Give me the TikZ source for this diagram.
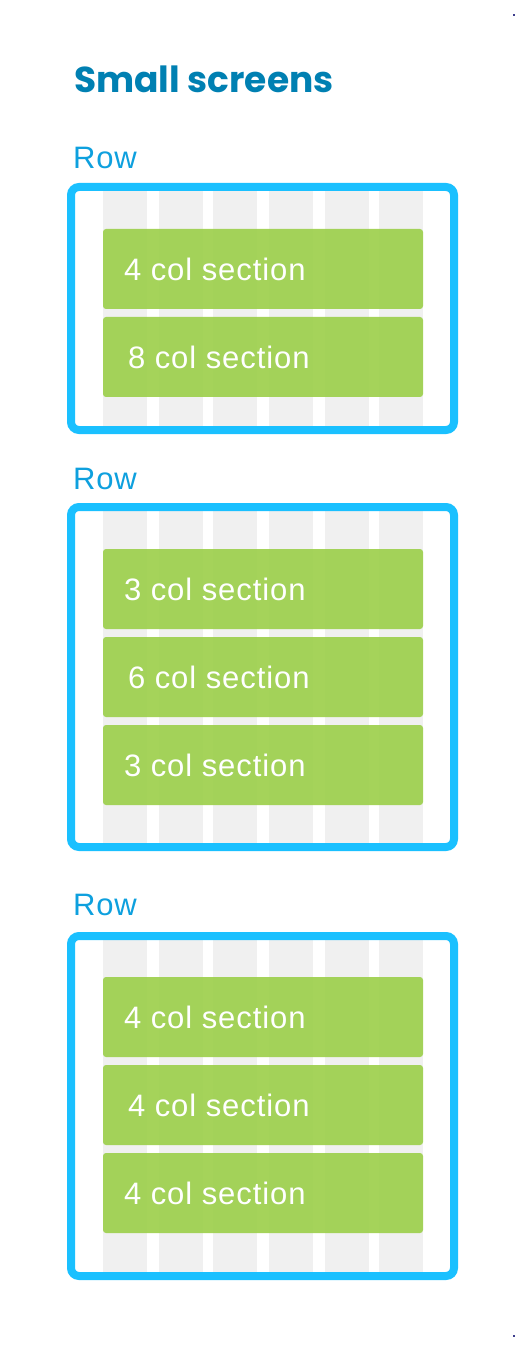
\documentclass[tikz,border=0pt]{standalone}
\usepackage{fontspec}
\setmainfont{Liberation Sans}
\usepackage{tikz}
\newfontfamily\poppinsfam{Poppins}
\newfontfamily\spacedfam{Liberation Sans}[LetterSpace=3]
\newcommand\hdfont{\poppinsfam\bfseries\fontsize{18}{21}\selectfont}
\newcommand\rwfont{\spacedfam\fontsize{15.5}{18}\selectfont}
\newcommand\scfont{\spacedfam\fontsize{15.5}{18}\selectfont}
\definecolor{titleBlue}{RGB}{0,128,178}
\definecolor{rowBlue}{RGB}{14,160,222}
\definecolor{frameBlue}{RGB}{26,192,255}
\definecolor{gridGray}{RGB}{240,240,240}
\definecolor{sectionGreen}{RGB}{158,208,78}
\definecolor{markNavy}{RGB}{60,60,140}

\begin{document}
\begin{tikzpicture}[x=0.5pt,y=-0.5pt,
  every node/.style={inner sep=0pt,outer sep=0pt},
  rowlabel/.style={anchor=base west,text=rowBlue,font=\rwfont},
  colsection/.style={anchor=west,text=white,font=\scfont},
  rowframe/.style={draw=frameBlue,line width=4pt,rounded corners=4pt}]
  \useasboundingbox (0,0) rectangle (530,1352);
  \node[anchor=base west,text=titleBlue,font=\hdfont] (title) at (74,93) {Small screens};
  % rows: label baseline / frame top / frame bottom
  \foreach \b/\t/\u [count=\i] in {169/187/430,489/507/847,915/936/1276}{
    \node[rowlabel] (row\i) at (73,\b) {Row};
    \foreach \c in {103,159,213,269,325,379}
      \fill[gridGray] (\c,\t) rectangle (\c+44,\u);
    \draw[rowframe] (71,\t) rectangle (454,\u);
  }
  % sections: top / columns / text x
  \foreach \t/\s/\x [count=\i] in {229/4/124,317/8/128,549/3/124,637/6/128,
                                     725/3/124,977/4/124,1065/4/128,1153/4/124}{
    \fill[sectionGreen,fill opacity=0.93,rounded corners=1.5pt] (103,\t) rectangle (423,\t+80);
    \node[colsection] (sec\i) at (\x,\t+40) {\s\ col section};
  }
  % crop marks
  \fill[markNavy] (513,14) rectangle (515,16);
  \fill[markNavy] (513,1335) rectangle (515,1337);
\end{tikzpicture}
\end{document}
